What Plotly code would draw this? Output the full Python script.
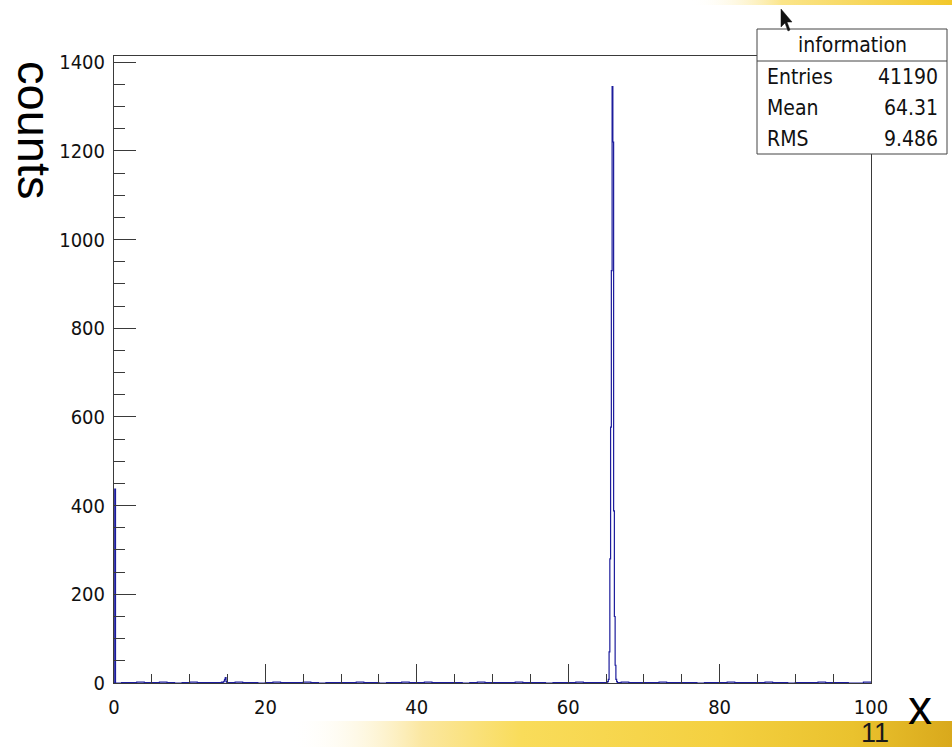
import base64
import plotly.graph_objects as go

# ---------------- data ----------------
# counts per unit-wide bin [k, k+1) for the flat background, k = 0..99
baseline_counts = [
    0, 1, 1, 2, 1, 1, 2, 1, 0, 1,
    2, 1, 1, 1, 0, 1, 2, 1, 1, 0,
    1, 2, 1, 1, 1, 2, 1, 0, 1, 1,
    1, 1, 2, 1, 1, 0, 1, 1, 2, 1,
    1, 2, 1, 1, 1, 1, 0, 1, 2, 1,
    1, 1, 1, 2, 1, 1, 1, 0, 1, 1,
    1, 2, 1, 1, 1, 0, 0, 2, 1, 1,
    1, 1, 2, 1, 1, 1, 1, 0, 1, 1,
    1, 2, 1, 1, 1, 1, 2, 1, 1, 0,
    1, 1, 1, 2, 1, 1, 1, 0, 0, 2,
]
# finer (0.1 wide) bins replacing selected unit bins
fine_spike_0 = [0, 437, 0, 0, 0, 0, 0, 0, 0, 0]
fine_bump_14 = [1, 1, 2, 1, 2, 4, 8, 12, 3, 1]
fine_peak_65 = [1, 2, 3, 8, 70, 280, 577, 930, 1345, 1220]
fine_peak_66 = [388, 150, 40, 8, 3, 1, 1, 0, 1, 0]
fine_bins = {0: fine_spike_0, 14: fine_bump_14, 65: fine_peak_65, 66: fine_peak_66}

x_ticks = [0, 20, 40, 60, 80, 100]
y_ticks = [0, 200, 400, 600, 800, 1000, 1200, 1400]
stats_title = "information"
stats_rows = [("Entries", "41190"), ("Mean", "64.31"), ("RMS", "9.486")]

# build bin edges / counts
edges, counts = [], []
for k, c in enumerate(baseline_counts):
    if k in fine_bins:
        for j, fc in enumerate(fine_bins[k]):
            edges.append(round(k + j * 0.1, 2))
            counts.append(fc)
    else:
        edges.append(k)
        counts.append(c)
edges.append(100)
counts.append(counts[-1])

# ---------------- layout geometry ----------------
W, H = 952, 747
L, R, T, B = 114, 871, 56, 683


def px(xp):
    return (xp - L) / (R - L)


def py(yp):
    return (B - yp) / (B - T)


NARROW = "Liberation Sans Narrow, DejaVu Sans Condensed, Liberation Sans, sans-serif"
SANS = "Liberation Sans, Arial, sans-serif"
AXC = "#3a3a3a"

fig = go.Figure()
fig.add_trace(go.Scatter(
    x=edges, y=counts, mode="lines", line_shape="hv",
    line=dict(color="#1c1c9c", width=1.2), hoverinfo="skip", showlegend=False,
))


def grad_uri(stops):
    st = "".join(f'<stop offset="{o}" stop-color="{c}" stop-opacity="{a}"/>' for o, c, a in stops)
    svg = ('<svg xmlns="http://www.w3.org/2000/svg" width="200" height="20" viewBox="0 0 200 20" '
           'preserveAspectRatio="none"><defs><linearGradient id="g" x1="0" y1="0" x2="1" y2="0">'
           f'{st}</linearGradient></defs><rect width="200" height="20" fill="url(#g)"/></svg>')
    return "data:image/svg+xml;base64," + base64.b64encode(svg.encode()).decode()


bottom_bar = grad_uri([(0, "#ffffff", 0), (0.2, "#fbe7a0", 1), (0.35, "#f9dc5a", 1),
                       (0.65, "#f4d040", 1), (0.85, "#eac22e", 1), (1, "#d9a91c", 1)])
top_bar = grad_uri([(0, "#ffffff", 0), (0.35, "#fbe58a", 1), (1, "#f2c72a", 1)])

images = [
    dict(source=bottom_bar, xref="paper", yref="paper", x=px(290), y=py(721),
         sizex=px(952) - px(290), sizey=py(721) - py(747), sizing="stretch",
         xanchor="left", yanchor="top", layer="below"),
    dict(source=top_bar, xref="paper", yref="paper", x=px(690), y=py(0),
         sizex=px(952) - px(690), sizey=py(0) - py(5), sizing="stretch",
         xanchor="left", yanchor="top", layer="below"),
]

shapes = [
    dict(type="rect", xref="paper", yref="paper", x0=px(757), x1=px(947), y0=py(154), y1=py(29),
         line=dict(color="#444444", width=1), fillcolor="white", layer="above"),
    dict(type="line", xref="paper", yref="paper", x0=px(757), x1=px(947), y0=py(61), y1=py(61),
         line=dict(color="#444444", width=1), layer="above"),
]
# mouse pointer
pts = [(781, 9), (781, 27), (785, 23), (788, 31), (790, 30), (787, 22), (792, 22)]
path = "M " + " L ".join(f"{px(a):.5f},{py(b):.5f}" for a, b in pts) + " Z"
shapes.append(dict(type="path", xref="paper", yref="paper", path=path,
                   fillcolor="#111111", line=dict(color="#111111", width=0.5), layer="above"))

annotations = [
    dict(text="counts", xref="paper", yref="paper", x=px(35), y=py(130), textangle=90,
         showarrow=False, font=dict(family=SANS, size=47, color="black"),
         xanchor="center", yanchor="middle"),
    dict(text="x", xref="paper", yref="paper", x=px(920), y=py(707),
         showarrow=False, font=dict(family=SANS, size=48, color="black"),
         xanchor="center", yanchor="middle"),
    dict(text="11", xref="paper", yref="paper", x=px(875), y=py(733),
         showarrow=False, font=dict(family=SANS, size=27, color="#1a1a1a"),
         xanchor="center", yanchor="middle", borderpad=0),
    dict(text=stats_title, xref="paper", yref="paper", x=px(852), y=py(45),
         showarrow=False, font=dict(family=NARROW, size=21, color="#111"),
         xanchor="center", yanchor="middle"),
]
for i, (k, v) in enumerate(stats_rows):
    yy = py(77 + 31 * i)
    annotations.append(dict(text=k, xref="paper", yref="paper", x=px(765), y=yy, showarrow=False,
                            font=dict(family=NARROW, size=21, color="#111"),
                            xanchor="left", yanchor="middle"))
    annotations.append(dict(text=v, xref="paper", yref="paper", x=px(940), y=yy, showarrow=False,
                            font=dict(family=NARROW, size=21, color="#111"),
                            xanchor="right", yanchor="middle"))

fig.update_layout(
    width=W, height=H, margin=dict(l=L, r=W - R, t=T, b=H - B, pad=0),
    paper_bgcolor="white", plot_bgcolor="white", showlegend=False,
    images=images, shapes=shapes, annotations=annotations,
    xaxis=dict(range=[0, 100], tickvals=x_ticks, ticktext=[str(v) for v in x_ticks],
               showgrid=False, zeroline=False, showline=True, linecolor=AXC, linewidth=1,
               mirror=True, ticks="inside", ticklen=19, tickcolor=AXC, tickwidth=1,
               minor=dict(dtick=5, tick0=0, ticks="inside", ticklen=9, tickcolor=AXC, tickwidth=1),
               tickfont=dict(family=NARROW, size=20, color="#111"), ticklabelstandoff=6),
    yaxis=dict(range=[0, 1414], tickvals=y_ticks, ticktext=[str(v) for v in y_ticks],
               showgrid=False, zeroline=False, showline=True, linecolor=AXC, linewidth=1,
               mirror=True, ticks="inside", ticklen=22, tickcolor=AXC, tickwidth=1,
               minor=dict(dtick=50, tick0=0, ticks="inside", ticklen=11, tickcolor=AXC, tickwidth=1),
               tickfont=dict(family=NARROW, size=20, color="#111"), ticklabelstandoff=4),
)

fig.write_html("out.html")
